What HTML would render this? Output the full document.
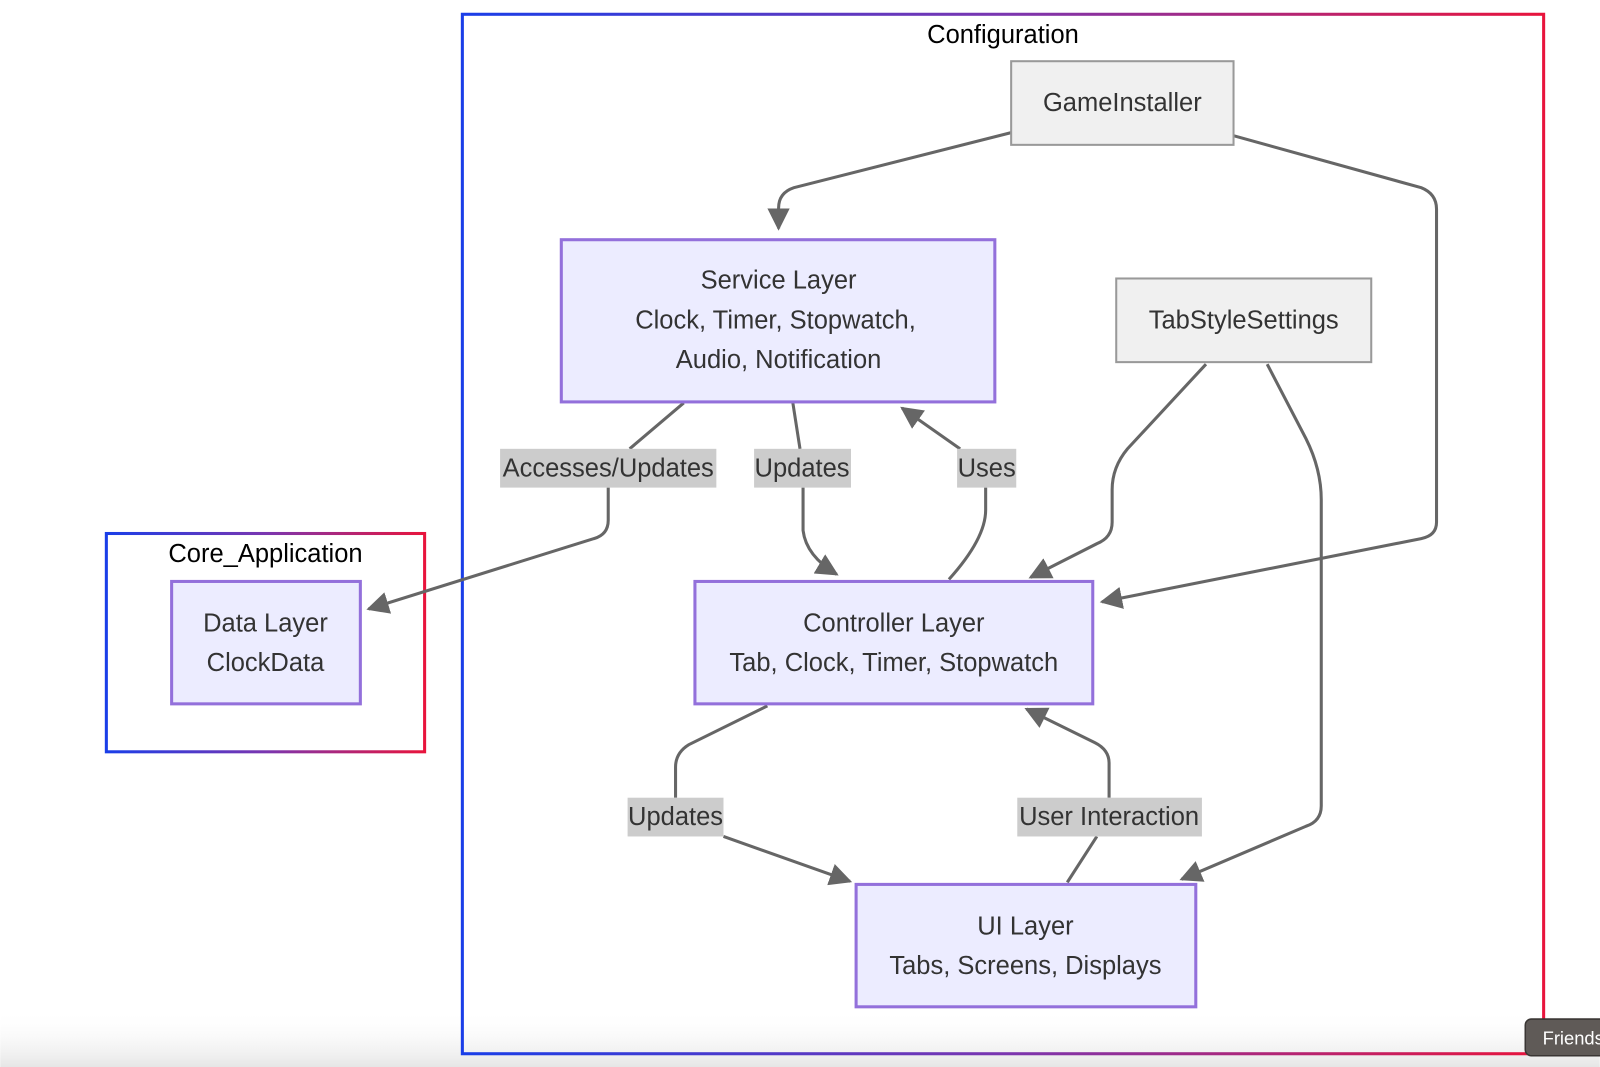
<!DOCTYPE html>
<html><head><style>
html,body{margin:0;padding:0;background:#fff;}
svg{display:block;}
text{font-family:"Liberation Sans",Arial,sans-serif;}
</style></head><body>
<svg width="1600" height="1067" viewBox="0 0 1568 1046" xmlns="http://www.w3.org/2000/svg">
<defs>
<linearGradient id="g" x1="0" y1="0" x2="1" y2="0">
<stop offset="0" stop-color="#1a3ee8"/><stop offset="0.5" stop-color="#7a36b0"/><stop offset="1" stop-color="#e8143c"/>
</linearGradient>
<linearGradient id="bot" x1="0" y1="0" x2="0" y2="1">
<stop offset="0" stop-color="#fff" stop-opacity="0"/><stop offset="1" stop-color="#e6e6e6"/>
</linearGradient>
<marker id="m" viewBox="0 0 10 10" refX="9" refY="5" markerWidth="22" markerHeight="22" orient="auto" markerUnits="userSpaceOnUse">
<path d="M0,0 L10,5 L0,10 z" fill="#666"/></marker>
</defs>
<rect x="0" y="990" width="1568" height="56" fill="url(#bot)"/>
<rect x="453" y="14" width="1060" height="1019" fill="none" stroke="url(#g)" stroke-width="3"/>
<rect x="104" y="523" width="312" height="214" fill="none" stroke="url(#g)" stroke-width="3"/>
<text x="983" y="42" font-size="25" text-anchor="middle" fill="#000">Configuration</text>
<text x="260" y="551" font-size="25" text-anchor="middle" fill="#000">Core_Application</text>

<g fill="none" stroke="#666" stroke-width="3">
<path d="M991,130 L778,184 Q763,189 763,204 L763,224" marker-end="url(#m)"/>
<path d="M1209,133 L1393,184 Q1408,190 1408,205 L1408,512 Q1408,525 1393,528 L1080,590" marker-end="url(#m)"/>
<path d="M670,395 L617,440 M596,478 L596,510 Q596,524 582,528 L361,597" marker-end="url(#m)"/>
<path d="M777,395 L784,440 M787,478 L787,520 Q790,545 820,563" marker-end="url(#m)"/>
<path d="M930,568 Q966,528 966,500 L966,478 M941,440 L884,400" marker-end="url(#m)"/>
<path d="M1182,357 L1105,440 Q1090,458 1090,480 L1090,512 Q1090,527 1075,533 L1010,566" marker-end="url(#m)"/>
<path d="M1242,357 L1280,430 Q1295,460 1295,490 L1295,790 Q1295,805 1280,810 L1158,862" marker-end="url(#m)"/>
<path d="M752,692 L675,730 Q662,738 662,752 L662,782 M709,820 L833,864" marker-end="url(#m)"/>
<path d="M1046,865 L1075,820 M1087,782 L1087,748 Q1087,735 1073,728 L1006,695" marker-end="url(#m)"/>
</g>

<g fill="#ececff" stroke="#9370db" stroke-width="3">
<rect x="550" y="235" width="425" height="159"/>
<rect x="681" y="570" width="390" height="120"/>
<rect x="168" y="570" width="185" height="120"/>
<rect x="839" y="867" width="333" height="120"/>
</g>
<g fill="#f0f0f0" stroke="#999" stroke-width="2">
<rect x="991" y="60" width="218" height="82"/>
<rect x="1094" y="273" width="250" height="82"/>
</g>
<g fill="#cccccc">
<rect x="490" y="440" width="212" height="38"/>
<rect x="739" y="440" width="95" height="38"/>
<rect x="938" y="440" width="58" height="38"/>
<rect x="615" y="782" width="94" height="38"/>
<rect x="997" y="782" width="181" height="38"/>
</g>
<g font-size="25" fill="#333" text-anchor="middle">
<text x="1100" y="109">GameInstaller</text>
<text x="1219" y="322">TabStyleSettings</text>
<text x="763" y="283">Service Layer</text>
<text x="760" y="322">Clock, Timer, Stopwatch,</text>
<text x="763" y="361">Audio, Notification</text>
<text x="876" y="619">Controller Layer</text>
<text x="876" y="658">Tab, Clock, Timer, Stopwatch</text>
<text x="260" y="619">Data Layer</text>
<text x="260" y="658">ClockData</text>
<text x="1005" y="916">UI Layer</text>
<text x="1005" y="955">Tabs, Screens, Displays</text>
<text x="596" y="467">Accesses/Updates</text>
<text x="786" y="467">Updates</text>
<text x="967" y="467">Uses</text>
<text x="662" y="809">Updates</text>
<text x="1087" y="809">User Interaction</text>
</g>
<rect x="1495" y="999" width="90" height="36" rx="6" fill="#5f5a57" stroke="#3a3634" stroke-width="1.5"/>
<text x="1512" y="1024" font-size="18" fill="#fff">Friends</text>
</svg>
</body></html>
